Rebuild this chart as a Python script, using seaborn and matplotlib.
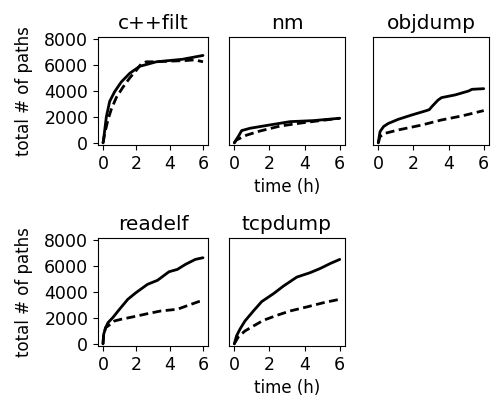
import matplotlib
matplotlib.use("Agg")
import matplotlib.pyplot as plt
import pandas as pd
import seaborn as sns

# %%
# values: (hours, total paths) for each program
programs = ["c++filt", "nm", "objdump", "readelf", "tcpdump"]

cppfilt_a_t = [0, 0.02, 0.2, 0.4, 0.7, 1.1, 1.6, 2.2, 3.2, 4.75, 6]
cppfilt_a_y = [0, 100, 2000, 3200, 3950, 4700, 5360, 5900, 6250, 6440, 6740]
cppfilt_b_t = [0, 0.1, 0.3, 0.5, 0.8, 1.2, 1.6, 2.0, 2.3, 2.6, 3, 4, 5, 5.5, 6]
cppfilt_b_y = [0, 700, 1800, 2600, 3500, 4300, 5000, 5600, 6100, 6250, 6250, 6300, 6350, 6400, 6250]

nm_a_t = [0, 0.04, 0.23, 0.42, 0.9, 2.0, 3.18, 4.51, 6]
nm_a_y = [0, 100, 500, 950, 1130, 1380, 1640, 1720, 1900]
nm_b_t = [0, 0.13, 0.7, 1.47, 2.61, 3.94, 4.9, 6]
nm_b_y = [0, 230, 600, 920, 1300, 1560, 1720, 1900]

objdump_a_t = [0, 0.1, 0.3, 0.57, 1.14, 1.9, 2.67, 2.9, 3.05, 3.4, 3.6, 4.38, 5.14, 5.33, 6]
objdump_a_y = [0, 870, 1260, 1500, 1820, 2150, 2460, 2560, 2800, 3300, 3490, 3700, 4000, 4130, 4180]
objdump_b_t = [0, 0.1, 0.38, 1.14, 2.48, 3.6, 4.76, 6]
objdump_b_y = [0, 490, 740, 1000, 1380, 1770, 2080, 2490]

readelf_a_t = [0, 0.04, 0.16, 0.3, 0.59, 0.99, 1.49, 1.98, 2.67, 3.27, 3.96, 4.46, 4.95, 5.54, 6]
readelf_a_y = [0, 740, 1260, 1640, 2030, 2670, 3440, 3950, 4590, 4900, 5560, 5740, 6130, 6510, 6640]
readelf_b_t = [0, 0.04, 0.16, 0.3, 0.69, 1.09, 1.78, 2.67, 3.47, 4.46, 4.85, 5.74, 6]
readelf_b_y = [0, 740, 1260, 1380, 1770, 1900, 2080, 2330, 2540, 2670, 2850, 3260, 3300]

tcpdump_a_t = [0, 0.13, 0.32, 0.61, 1.09, 1.56, 2.23, 2.8, 3.56, 4.32, 4.9, 5.47, 6]
tcpdump_a_y = [0, 620, 1130, 1770, 2540, 3260, 3870, 4460, 5150, 5490, 5820, 6200, 6510]
tcpdump_b_t = [0, 0.04, 0.23, 0.61, 1.09, 1.66, 2.42, 3.18, 4.13, 5.09, 6]
tcpdump_b_y = [0, 100, 540, 1000, 1380, 1820, 2200, 2540, 2850, 3180, 3440]

series = {
    "c++filt": [(cppfilt_a_t, cppfilt_a_y), (cppfilt_b_t, cppfilt_b_y)],
    "nm": [(nm_a_t, nm_a_y), (nm_b_t, nm_b_y)],
    "objdump": [(objdump_a_t, objdump_a_y), (objdump_b_t, objdump_b_y)],
    "readelf": [(readelf_a_t, readelf_a_y), (readelf_b_t, readelf_b_y)],
    "tcpdump": [(tcpdump_a_t, tcpdump_a_y), (tcpdump_b_t, tcpdump_b_y)],
}

rows = []
for prog, runs in series.items():
    for run, (ts, ys) in zip(["run_a", "run_b"], runs):
        rows += [{"program": prog, "run": run, "time": t, "paths": y} for t, y in zip(ts, ys)]
df = pd.DataFrame(rows)

# %%
sns.set_style("ticks")
plt.rcParams["font.family"] = ["DejaVu Sans"]
plt.rcParams.update(
    {
        "axes.linewidth": 0.8,
        "axes.edgecolor": "black",
        "text.color": "black",
        "axes.labelcolor": "black",
        "xtick.color": "black",
        "ytick.color": "black",
    }
)

fig = plt.figure(figsize=(4.92, 4.01), dpi=100)
W, H = 492, 401

# axes boxes in pixels: left, top, width, height
boxes = [
    (98, 37, 110, 108),
    (229, 37, 116, 108),
    (373, 37, 116, 108),
    (98, 238, 110, 108),
    (229, 238, 116, 108),
]

for i, (prog, (x0, y0, w, h)) in enumerate(zip(programs, boxes)):
    ax = fig.add_axes([x0 / W, 1 - (y0 + h) / H, w / W, h / H])
    sns.lineplot(
        df[df.program == prog],
        x="time",
        y="paths",
        style="run",
        style_order=["run_a", "run_b"],
        dashes={"run_a": "", "run_b": (3.2, 1.6)},
        color="black",
        linewidth=2.0,
        legend=False,
        ax=ax,
    )
    ax.set_xlim(-0.3, 6.3)
    ax.set_ylim(-160, 8160)
    ax.set_xticks([0, 2, 4, 6])
    ax.set_yticks([0, 2000, 4000, 6000, 8000])
    ax.tick_params(labelsize=12.5, width=0.8, length=3.5)
    ax.set_title(prog, fontsize=14.5)
    if i % 3 == 0:
        ax.set_ylabel("total # of paths", fontsize=12, labelpad=8)
    else:
        ax.set_ylabel("")
        ax.set_yticklabels([])
        ax.tick_params(axis="y", left=False)
    if i in (1, 4):
        ax.set_xlabel("time (h)", fontsize=12)
    else:
        ax.set_xlabel("")

fig.savefig("out.png", dpi=100)
